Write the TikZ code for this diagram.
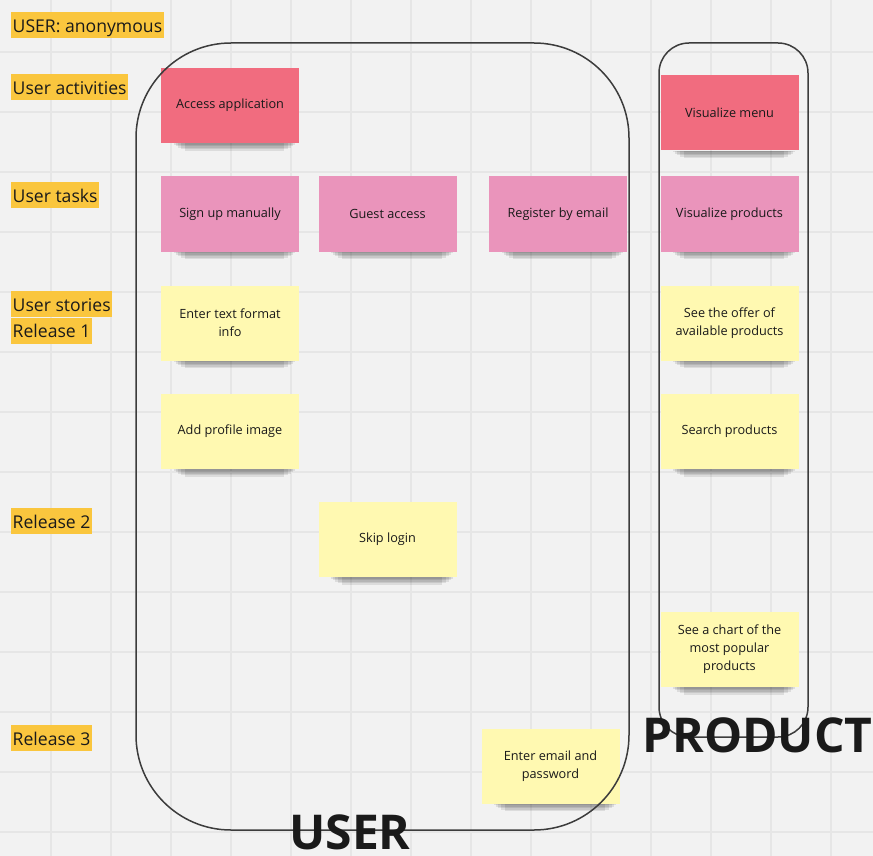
\documentclass[tikz,border=0pt]{standalone}
\usepackage{fontspec}
\setmainfont{Open Sans}
\usetikzlibrary{positioning}

\definecolor{board}{HTML}{F2F2F2}
\definecolor{gridgray}{HTML}{E6E6E6}
\definecolor{actred}{HTML}{F16C7F}
\definecolor{taskpink}{HTML}{EA94BB}
\definecolor{storyyellow}{HTML}{FFF9B1}
\definecolor{tagorange}{HTML}{FAC63E}
\definecolor{ink}{HTML}{1A1A1A}
\definecolor{framegray}{HTML}{3C3C3C}

\begin{document}
\begin{tikzpicture}[x=1pt, y=-1pt,
  sticky/.style={minimum width=138, minimum height=75, inner sep=0pt,
    align=center, text=ink, font=\fontsize{12.7}{18}\selectfont},
  activity/.style={sticky, fill=actred},
  task/.style={sticky, fill=taskpink},
  story/.style={sticky, fill=storyyellow},
  shade/.style={fill=black, opacity=0.09},
  tag/.style={fill=tagorange, text=ink, font=\fontsize{17.6}{20}\selectfont,
    inner xsep=1.5pt, inner ysep=1pt, text height=19, text depth=5,
    anchor=north west},
  frame/.style={draw=framegray, line width=1.5pt},
  title/.style={text=ink, font=\fontsize{48}{50}\selectfont\bfseries, inner sep=0pt}]

  \useasboundingbox (0,0) rectangle (873,856);
  \fill[board] (0,0) rectangle (873,856);

  % grid
  \foreach \gx in {51,111,...,831}
    \draw[gridgray, line width=1.5pt] (\gx,0) -- (\gx,856);
  \foreach \gy in {52,112,...,832}
    \draw[gridgray, line width=1.5pt] (0,\gy) -- (873,\gy);

  % row labels
  \node[tag] (anon) at (11,12) {USER: anonymous};
  \node[tag] (activities) at (11,74) {User activities};
  \node[tag] (tasks) at (11,182) {User tasks};
  \node[tag] (stories) at (11,291) {User stories};
  \node[tag, below=0pt of stories.south west, anchor=north west] (rel1) {Release 1};
  \node[tag] (rel2) at (11,508) {Release 2};
  \node[tag] (rel3) at (11,725) {Release 3};

  % activities and tasks
  \node[activity] (access) at (230,105.5) {Access application};
  \node[activity] (vmenu) at (729.5,113) {Visualize menu};
  \node[task] (signup) at (230,214) {Sign up manually};
  \node[task] (guest) at (387.5,214) {Guest access};
  \node[task] (register) at (558,214) {Register by email};
  \node[task] (vproducts) at (729.5,214) {Visualize products};

  % stories
  \node[story] (textinfo) at (230,323) {Enter text format\\info};
  \node[story] (profile) at (230,431.5) {Add profile image};
  \node[story] (offer) at (729.5,323) {See the offer of\\available products};
  \node[story] (search) at (729.5,431.5) {Search products};
  \node[story] (skip) at (387.5,539.5) {Skip login};
  \node[story] (chart) at (729.5,649.5) {See a chart of the\\most popular\\products};
  \node[story] (email) at (550.5,766) {Enter email and\\password};

  % shadows under the stickies
  \foreach \n in {access,vmenu,signup,guest,register,vproducts,
                  textinfo,profile,offer,search,skip,chart,email}
    \foreach \d/\w in {1.5/13,3/15,4.5/17,6/20,7.5/24}
      \fill[shade] ([xshift=\w pt]\n.south west)
        rectangle ([xshift=-\w pt+9pt, yshift=-\d pt]\n.south east);

  % frames
  \draw[frame, rounded corners=95] (136,43) rectangle (629,830);
  \draw[frame, rounded corners=30] (659,43) rectangle (808,737);

  \node[title, anchor=base] (usertitle) at (350,849) {USER};
  \node[title, anchor=base west] (producttitle) at (642,752) {PRODUCT};

\end{tikzpicture}
\end{document}
